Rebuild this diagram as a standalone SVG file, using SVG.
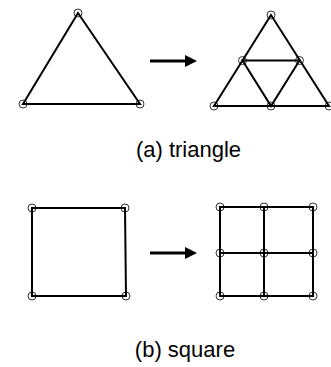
<svg xmlns="http://www.w3.org/2000/svg" width="331" height="367" viewBox="0 0 331 367">
<style>
.e{stroke:#000;stroke-width:2;fill:none}
.v{stroke:#000;stroke-width:0.8;fill:none}
.a{stroke:#000;stroke-width:3;fill:none}
.t{font-family:"Liberation Sans",Arial,sans-serif;font-size:22px;fill:#000}
</style>
<defs>
<marker id="ah" markerWidth="4" markerHeight="4" refX="0" refY="2" orient="auto" markerUnits="strokeWidth">
<path d="M0,0 L4,2 L0,4 Z" fill="#000"/>
</marker>
</defs>
<g id="connectors">
<path class="e" d="M78,13 L23,104 L140,104 Z"/>
<path class="a" d="M150,61 L185,61" marker-end="url(#ah)"/>
<path class="e" d="M271,15 L214,106 L329,106 Z M242.5,60.5 L299.5,60.5 L271,106 Z"/>
<path class="e" d="M32,208 L125,208 L126,296 L32,296 Z"/>
<path class="a" d="M150,253 L185,253" marker-end="url(#ah)"/>
<path class="e" d="M220,207 L313,207 L313,296 L220,296 Z M264,207 L264,296 M220,253 L313,253"/>
</g>
<g id="nodes">
<g id="t1"><circle class="v" cx="78" cy="13" r="4"/><circle class="v" cx="23" cy="104" r="4"/><circle class="v" cx="140" cy="104" r="4"/></g>
<g id="t2"><circle class="v" cx="271" cy="15" r="4"/><circle class="v" cx="242.5" cy="60.5" r="4"/><circle class="v" cx="299.5" cy="60.5" r="4"/><circle class="v" cx="214" cy="106" r="4"/><circle class="v" cx="271" cy="106" r="4"/><circle class="v" cx="329" cy="106" r="4"/></g>
<g id="s1"><circle class="v" cx="32" cy="208" r="4"/><circle class="v" cx="125" cy="208" r="4"/><circle class="v" cx="32" cy="296" r="4"/><circle class="v" cx="126" cy="296" r="4"/></g>
<g id="s2"><circle class="v" cx="220" cy="207" r="4"/><circle class="v" cx="264" cy="207" r="4"/><circle class="v" cx="313" cy="207" r="4"/><circle class="v" cx="220" cy="253" r="4"/><circle class="v" cx="264" cy="253" r="4"/><circle class="v" cx="313" cy="253" r="4"/><circle class="v" cx="220" cy="296" r="4"/><circle class="v" cx="264" cy="296" r="4"/><circle class="v" cx="313" cy="296" r="4"/></g>
</g>
<text class="t" x="188.5" y="157" text-anchor="middle">(a) triangle</text>
<text class="t" x="185" y="357" text-anchor="middle">(b) square</text>
</svg>
